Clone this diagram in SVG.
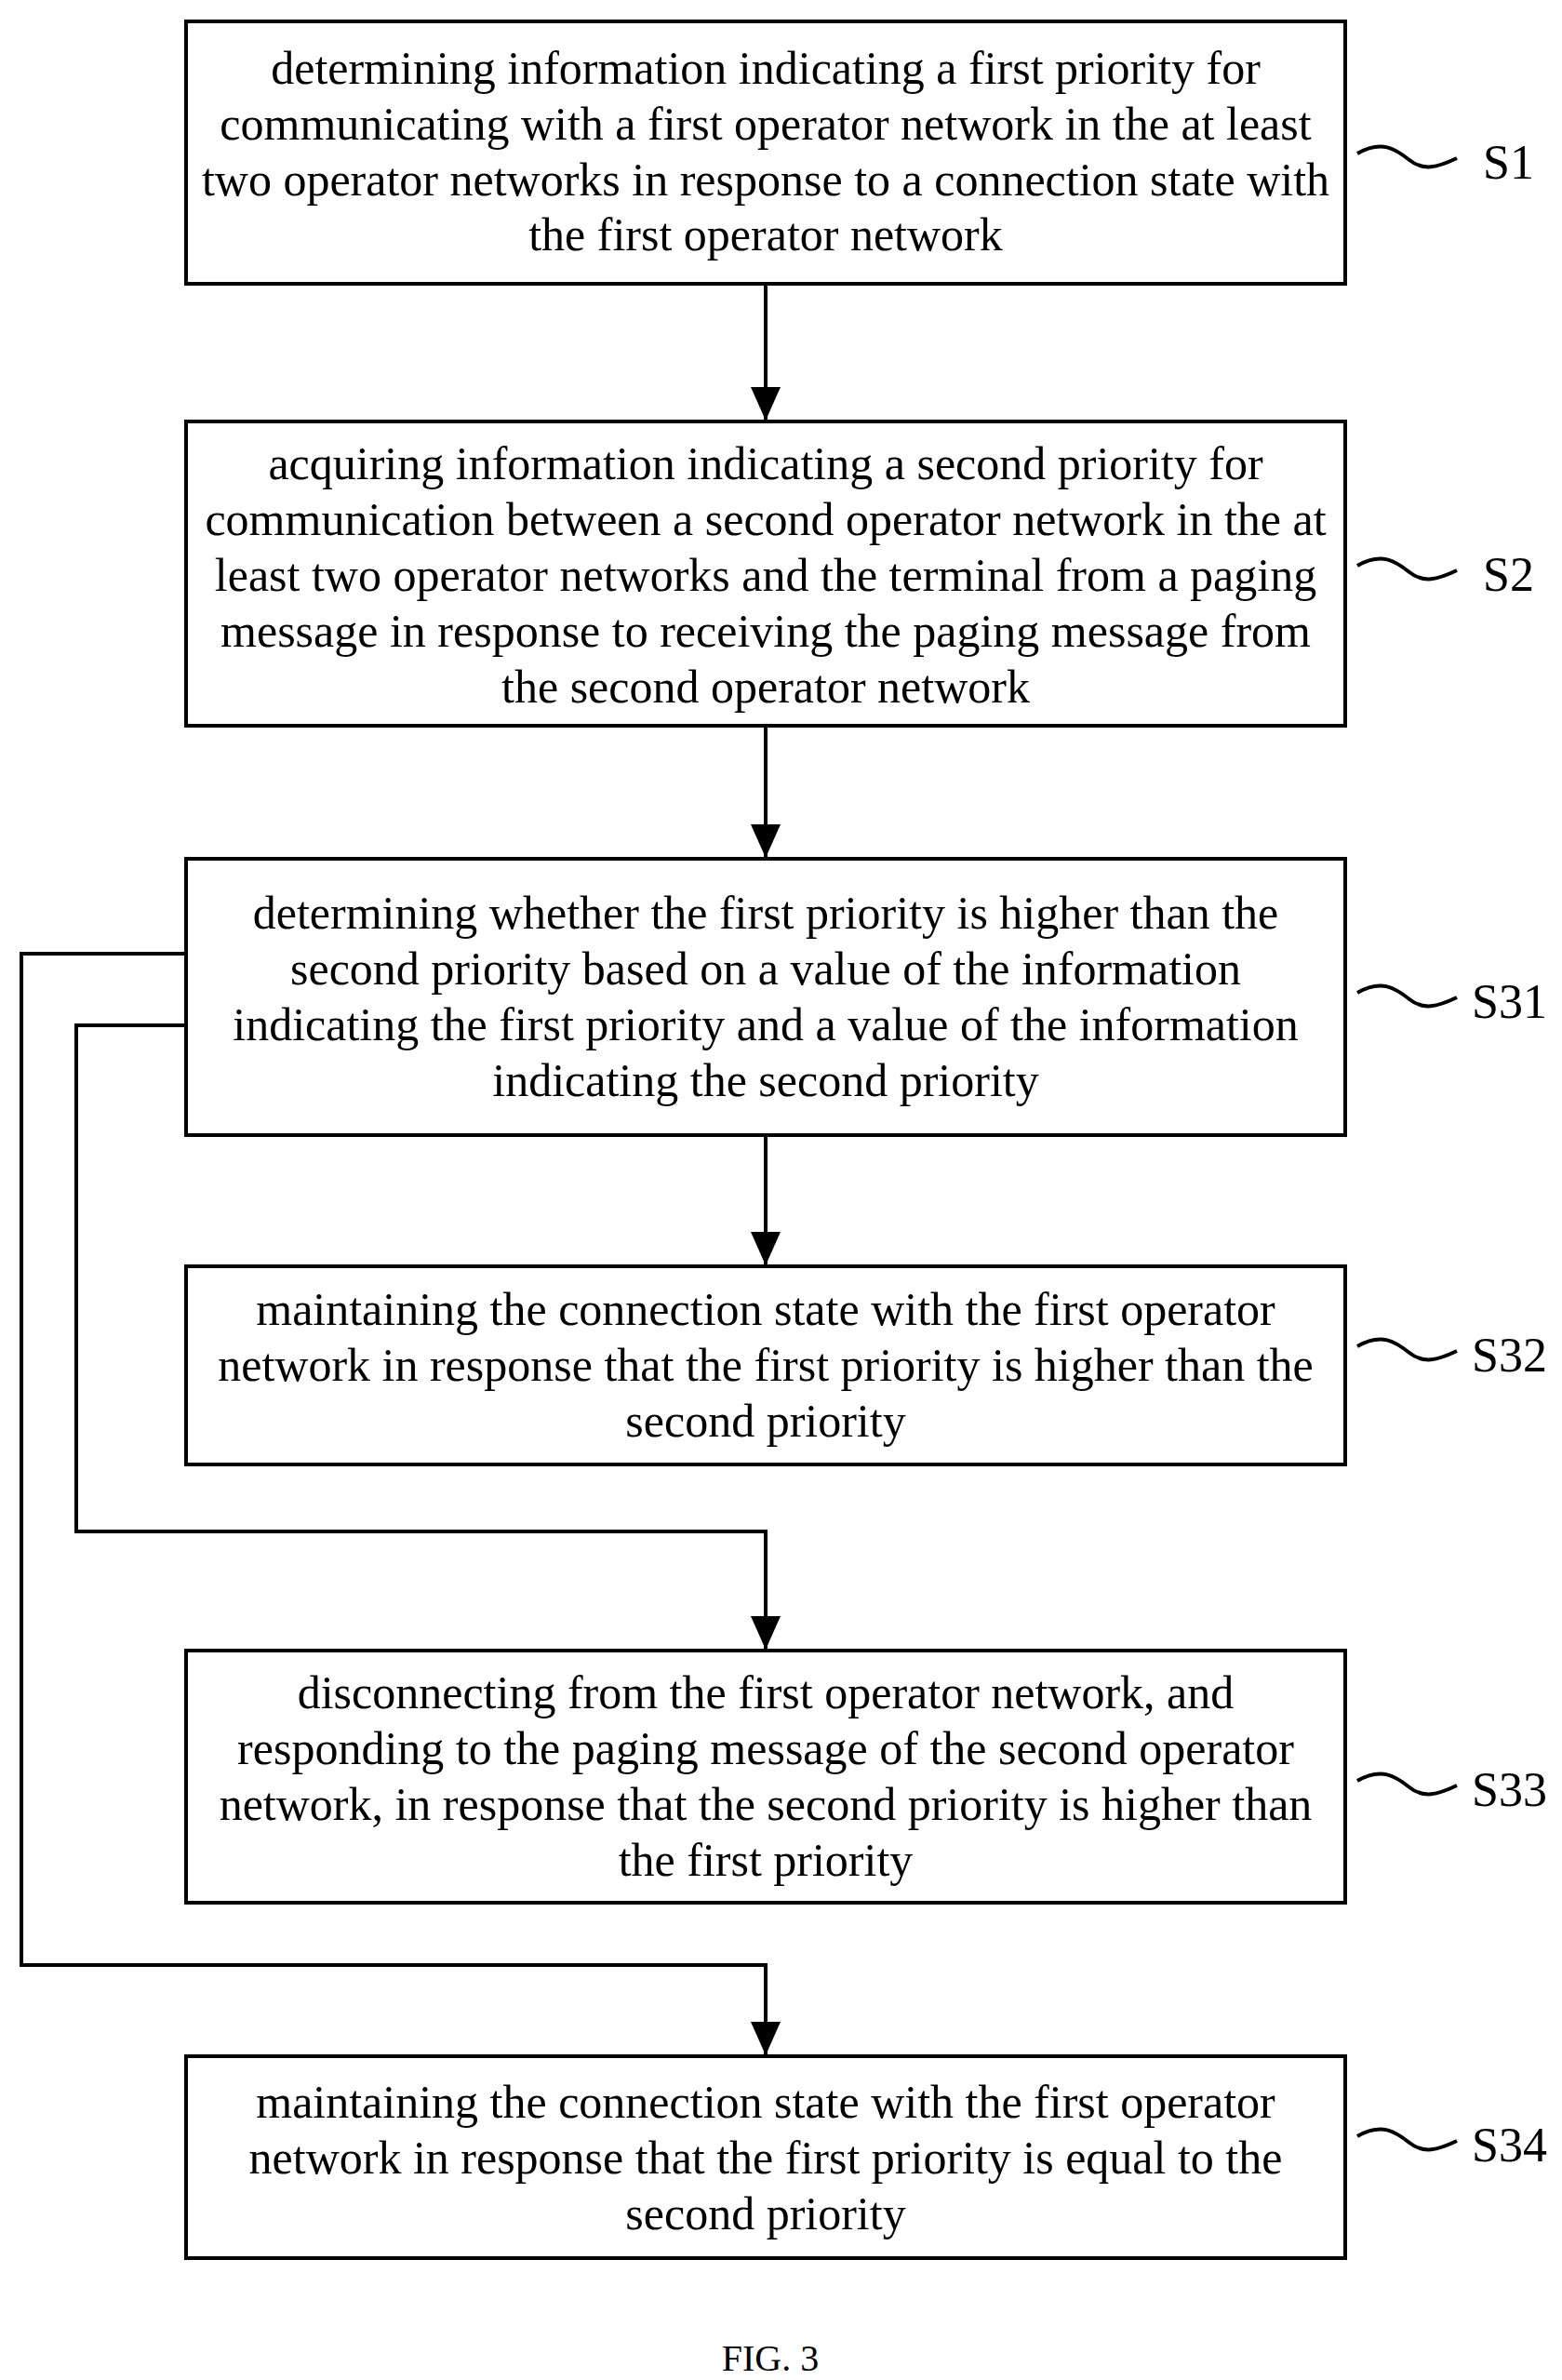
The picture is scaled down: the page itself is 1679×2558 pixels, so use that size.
<svg xmlns="http://www.w3.org/2000/svg" width="1679" height="2558" viewBox="0 0 1679 2558">
<style>
.b{fill:#fff;stroke:#000;stroke-width:4}
.t{font-family:"Liberation Serif",serif;font-size:50px;text-anchor:middle;fill:#000}
.l{font-family:"Liberation Serif",serif;font-size:52px;fill:#000}
.c{fill:none;stroke:#000;stroke-width:4}
</style>
<defs>
<marker id="ah" viewBox="0 0 36 32" refX="36" refY="16" markerWidth="36" markerHeight="32" orient="auto" markerUnits="userSpaceOnUse"><path d="M0,0 L36,16 L0,32z"/></marker></defs>
<rect width="1679" height="2558" fill="#fff"/>
<g id="connectors">
<path class="c" d="M823,305 V452" marker-end="url(#ah)"/>
<path class="c" d="M823,780 V922" marker-end="url(#ah)"/>
<path class="c" d="M823,1220 V1360" marker-end="url(#ah)"/>
<path class="c" d="M200,1102 H82 V1646 H823 V1773" marker-end="url(#ah)"/>
<path class="c" d="M200,1025 H23 V2112 H823 V2209" marker-end="url(#ah)"/>
</g>
<g id="S1"><rect class="b" x="200" y="23" width="1246" height="282"/>
<text class="t"><tspan x="823" y="90">determining information indicating a first priority for</tspan><tspan x="823" y="150">communicating with a first operator network in the at least</tspan><tspan x="823" y="210">two operator networks in response to a connection state with</tspan><tspan x="823" y="269">the first operator network</tspan></text>
<path class="c" d="M1459,165 C1485,150 1500,160 1515,172 C1530,184 1545,180 1566,170"/><text class="l" x="1594" y="192">S1</text></g>
<g id="S2"><rect class="b" x="200" y="453" width="1246" height="327"/>
<text class="t"><tspan x="823" y="515">acquiring information indicating a second priority for</tspan><tspan x="823" y="575">communication between a second operator network in the at</tspan><tspan x="823" y="635">least two operator networks and the terminal from a paging</tspan><tspan x="823" y="695">message in response to receiving the paging message from</tspan><tspan x="823" y="755">the second operator network</tspan></text>
<path class="c" d="M1459,608 C1485,593 1500,603 1515,615 C1530,627 1545,623 1566,613"/><text class="l" x="1594" y="635">S2</text></g>
<g id="S31"><rect class="b" x="200" y="923" width="1246" height="297"/>
<text class="t"><tspan x="823" y="998">determining whether the first priority is higher than the</tspan><tspan x="823" y="1058">second priority based on a value of the information</tspan><tspan x="823" y="1118">indicating the first priority and a value of the information</tspan><tspan x="823" y="1178">indicating the second priority</tspan></text>
<path class="c" d="M1459,1067 C1485,1052 1500,1062 1515,1074 C1530,1086 1545,1082 1566,1072"/><text class="l" x="1582" y="1094">S31</text></g>
<g id="S32"><rect class="b" x="200" y="1361" width="1246" height="213"/>
<text class="t"><tspan x="823" y="1424">maintaining the connection state with the first operator</tspan><tspan x="823" y="1484">network in response that the first priority is higher than the</tspan><tspan x="823" y="1544">second priority</tspan></text>
<path class="c" d="M1459,1447 C1485,1432 1500,1442 1515,1454 C1530,1466 1545,1462 1566,1452"/><text class="l" x="1582" y="1474">S32</text></g>
<g id="S33"><rect class="b" x="200" y="1774" width="1246" height="271"/>
<text class="t"><tspan x="823" y="1836">disconnecting from the first operator network, and</tspan><tspan x="823" y="1896">responding to the paging message of the second operator</tspan><tspan x="823" y="1956">network, in response that the second priority is higher than</tspan><tspan x="823" y="2016">the first priority</tspan></text>
<path class="c" d="M1459,1914 C1485,1899 1500,1909 1515,1921 C1530,1933 1545,1929 1566,1919"/><text class="l" x="1582" y="1941">S33</text></g>
<g id="S34"><rect class="b" x="200" y="2210" width="1246" height="217"/>
<text class="t"><tspan x="823" y="2276">maintaining the connection state with the first operator</tspan><tspan x="823" y="2336">network in response that the first priority is equal to the</tspan><tspan x="823" y="2396">second priority</tspan></text>
<path class="c" d="M1459,2296 C1485,2281 1500,2291 1515,2303 C1530,2315 1545,2311 1566,2301"/><text class="l" x="1582" y="2323">S34</text></g>
<text class="t" x="828" y="2548" style="font-size:40px">FIG. 3</text>
</svg>
